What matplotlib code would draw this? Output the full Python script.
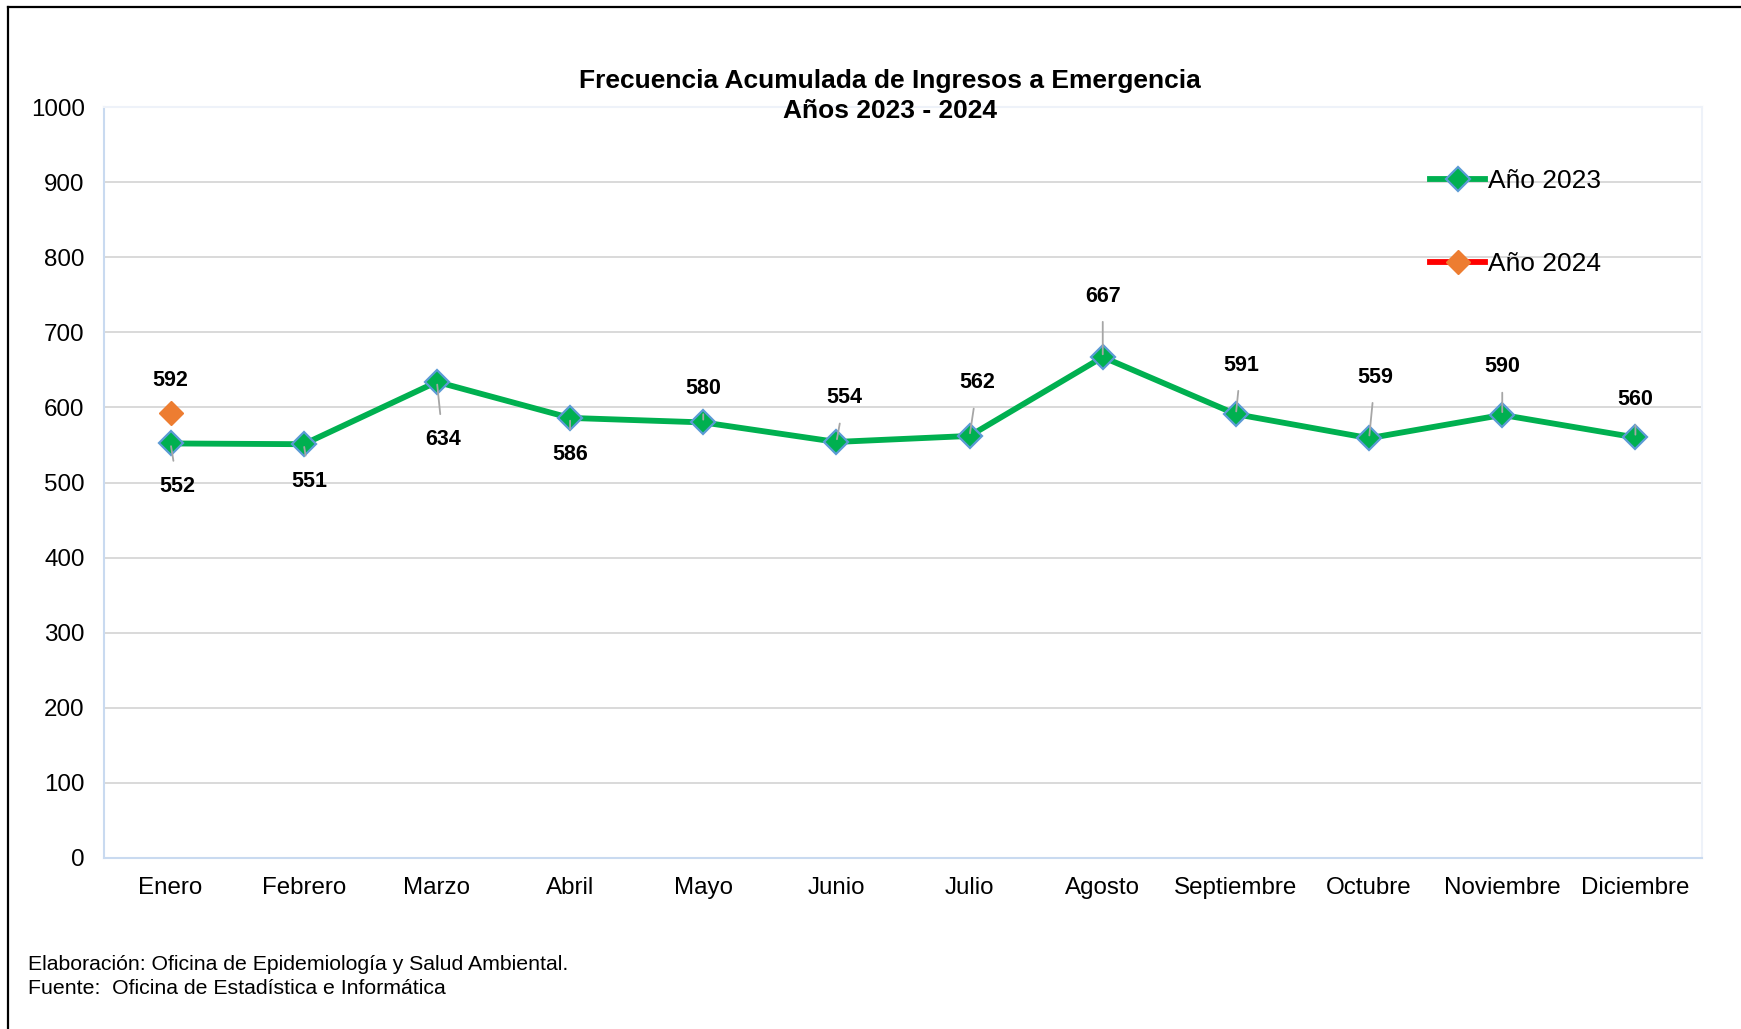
import matplotlib.pyplot as plt
from matplotlib.lines import Line2D

plt.rcParams['font.family'] = ['Liberation Sans', 'DejaVu Sans']

## Data
meses = ["Enero", "Febrero", "Marzo", "Abril", "Mayo", "Junio", "Julio",
         "Agosto", "Septiembre", "Octubre", "Noviembre", "Diciembre"]
anio_2023 = [552, 551, 634, 586, 580, 554, 562, 667, 591, 559, 590, 560]
anio_2024 = [592]
y_ticks = [0, 100, 200, 300, 400, 500, 600, 700, 800, 900, 1000]

# label offsets in pixels (dx, dy), negative dy = below the point
off_2023 = [(7, -43), (6, -37), (6, -58), (0, -37), (0, 34), (8, 44),
            (8, 53), (0, 61), (5, 49), (6, 61), (0, 48), (0, 38)]
off_2024 = [(0, 33)]

GREEN = "#00B050"
EDGE = "#5B9BD5"
ORANGE = "#ED7D31"

fig = plt.figure(figsize=(17.41, 10.29), dpi=100)
ax = fig.add_axes([104/1741, 1-858/1029, (1702-104)/1741, (858-107)/1029])

xs = list(range(len(meses)))
ax.plot(xs, anio_2023, color=GREEN, lw=4.2, marker="D", ms=12,
        mfc=GREEN, mec=EDGE, mew=1.6, zorder=4)
ax.plot(xs[:len(anio_2024)], anio_2024, color="red", lw=4.2, marker="D",
        ms=12, mfc=ORANGE, mec=ORANGE, mew=1, zorder=4, linestyle="-")

def label(x, y, off):
    dx, dy = off
    ax.annotate(str(y), (x, y), xytext=(dx, dy), textcoords="offset pixels",
                ha="center", va="center", fontsize=15.5, fontweight="bold",
                arrowprops=dict(arrowstyle="-", color="#A6A6A6", lw=1.3,
                                shrinkA=9, shrinkB=2), zorder=5)

for x, y, off in zip(xs, anio_2023, off_2023):
    label(x, y, off)
for x, y, off in zip(xs, anio_2024, off_2024):
    ax.annotate(str(y), (x, y), xytext=off, textcoords="offset pixels",
                ha="center", va="center", fontsize=15.5, fontweight="bold")

ax.set_xlim(-0.5, len(meses) - 0.5)
ax.set_ylim(0, 1000)
ax.set_yticks(y_ticks)
ax.set_xticks(xs)
ax.set_xticklabels(meses)
ax.tick_params(axis="both", length=0, labelsize=17.4)
ax.tick_params(axis="x", pad=14)
ax.tick_params(axis="y", pad=14)
ax.grid(axis="y", color="#D9D9D9", lw=1.4)
ax.set_axisbelow(True)
for s in ["left", "bottom"]:
    ax.spines[s].set_color("#C9DAF0")
    ax.spines[s].set_linewidth(1.5)
for s in ["top", "right"]:
    ax.spines[s].set_color("#EEF2F9")
    ax.spines[s].set_linewidth(1.5)

leg = ax.legend(["Año 2023", "Año 2024"], loc="upper left",
                bbox_to_anchor=((1430-104)/1598, 0.917), frameon=False,
                fontsize=19, borderpad=0, borderaxespad=0,
                labelspacing=2.23, handlelength=2.1, handletextpad=0.1)

fig.text(0.511, 1-81/1029, "Frecuencia Acumulada de Ingresos a Emergencia",
         ha="center", va="center", fontsize=19, fontweight="bold")
fig.text(0.511, 1-111/1029, "Años 2023 - 2024", ha="center", va="center",
         fontsize=19, fontweight="bold")

fig.text(28/1741, 1-965/1029, "Elaboración: Oficina de Epidemiología y Salud Ambiental.",
         ha="left", va="center", fontsize=15.3)
fig.text(28/1741, 1-989/1029, "Fuente:  Oficina de Estadística e Informática",
         ha="left", va="center", fontsize=15.3)

# outer frame (top and left edges)
fig.add_artist(Line2D([8/1741, 8/1741], [0, 1-7/1029], color="black", lw=1.6,
                      transform=fig.transFigure))
fig.add_artist(Line2D([8/1741, 1], [1-7/1029, 1-7/1029], color="black", lw=1.6,
                      transform=fig.transFigure))

fig.savefig("out.png", dpi=100)
